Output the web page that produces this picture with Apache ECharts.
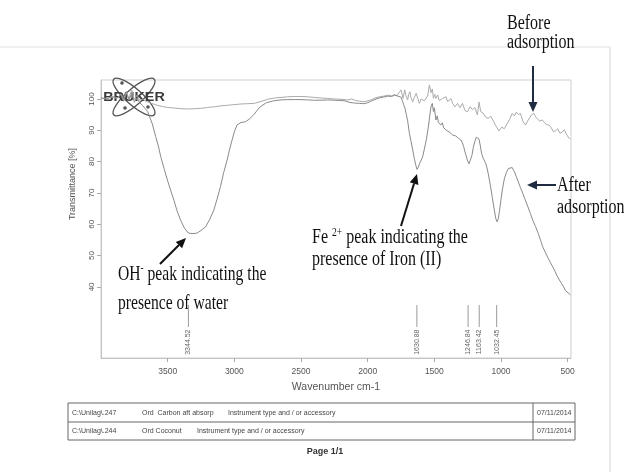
<!DOCTYPE html>
<html>
<head>
<meta charset="utf-8">
<script src="https://cdn.jsdelivr.net/npm/echarts@6/dist/echarts.min.js"></script>
<style>
  html, body { margin: 0; padding: 0; background: #ffffff; }
  #chart { width: 624px; height: 472px; }
</style>
</head>
<body>
<div id="chart"></div>
<script>
// ---------------- DATA ----------------
const xTickValues = [3500, 3000, 2500, 2000, 1500, 1000, 500];
const yTickValues = [40, 50, 60, 70, 80, 90, 100];
const peakWavenumbers = [3344.52, 1630.88, 1246.84, 1163.42, 1032.45];

// "Before adsorption" (Ord Coconut)
const beforeWn = [4000, 3960, 3920, 3880, 3850, 3830, 3810, 3790, 3770, 3750, 3730, 3710, 3690, 3660, 3620, 3580, 3540, 3500, 3450, 3400, 3350, 3300, 3250, 3200, 3150, 3100, 3050, 3000, 2950, 2900, 2850, 2800, 2750, 2700, 2650, 2600, 2550, 2500, 2450, 2400, 2350, 2300, 2250, 2200, 2150, 2120, 2090, 2060, 2030, 2000, 1970, 1940, 1910, 1880, 1850, 1820, 1800, 1780, 1765, 1750, 1735, 1722, 1712, 1700, 1692, 1683, 1675, 1662, 1649, 1636, 1624, 1612, 1599, 1587, 1575, 1562, 1550, 1537, 1525, 1515, 1507, 1497, 1488, 1475, 1463, 1450, 1438, 1425, 1413, 1400, 1388, 1375, 1363, 1345, 1326, 1308, 1289, 1270, 1251, 1232, 1214, 1196, 1177, 1165, 1152, 1134, 1115, 1097, 1078, 1060, 1040, 1015, 995, 975, 953, 935, 916, 900, 885, 870, 854, 835, 816, 800, 785, 770, 754, 740, 725, 710, 692, 675, 660, 642, 625, 608, 592, 575, 558, 542, 525, 510, 492, 480];
const beforeT = [100.3, 100.1, 100.6, 100.2, 101.6, 99.6, 102.4, 100.1, 103.0, 99.8, 101.2, 99.6, 100.0, 99.2, 98.6, 98.0, 97.6, 97.3, 97.1, 96.9, 96.8, 96.9, 97.0, 97.3, 97.5, 97.8, 98.0, 98.2, 98.4, 98.5, 98.6, 99.2, 99.9, 100.3, 100.5, 100.7, 100.8, 100.8, 100.7, 100.5, 100.3, 100.2, 100.0, 99.9, 99.7, 100.0, 99.5, 99.3, 99.1, 99.4, 99.8, 100.4, 100.7, 100.9, 101.2, 101.0, 101.4, 101.1, 101.6, 102.9, 100.2, 102.9, 101.0, 99.7, 101.5, 102.3, 100.4, 99.1, 100.6, 101.8, 100.2, 98.6, 100.0, 100.2, 99.4, 99.7, 101.0, 104.5, 102.0, 103.2, 100.2, 101.5, 100.2, 101.3, 99.5, 99.1, 100.2, 99.7, 100.7, 99.2, 98.8, 100.1, 98.6, 97.5, 98.6, 97.2, 98.6, 96.3, 95.9, 97.5, 96.6, 97.3, 94.9, 99.0, 96.0, 95.5, 94.2, 93.8, 94.5, 93.2, 91.5, 89.8, 91.0, 90.5, 92.2, 93.5, 95.4, 94.6, 95.8, 95.0, 95.4, 92.8, 91.7, 93.0, 94.0, 95.0, 95.4, 94.3, 93.8, 92.9, 93.3, 92.6, 91.8, 91.7, 91.0, 89.6, 89.8, 90.5, 89.1, 89.4, 90.2, 88.8, 87.6, 87.2];

// "After adsorption" (Ord Carbon aft absorp)
const afterWn = [4000, 3960, 3920, 3880, 3850, 3830, 3810, 3790, 3770, 3750, 3730, 3710, 3690, 3670, 3650, 3639, 3615, 3590, 3570, 3552, 3525, 3502, 3475, 3453, 3430, 3403, 3375, 3345, 3310, 3279, 3250, 3216, 3185, 3154, 3130, 3104, 3080, 3054, 3035, 3017, 3000, 2980, 2950, 2918, 2890, 2856, 2830, 2806, 2760, 2707, 2650, 2600, 2550, 2500, 2450, 2400, 2350, 2300, 2250, 2200, 2170, 2134, 2100, 2060, 2030, 2007, 1980, 1960, 1930, 1910, 1880, 1850, 1820, 1800, 1780, 1765, 1750, 1740, 1730, 1720, 1710, 1700, 1687, 1675, 1662, 1650, 1640, 1630, 1620, 1610, 1598, 1587, 1575, 1560, 1545, 1535, 1525, 1515, 1507, 1500, 1488, 1478, 1470, 1460, 1451, 1440, 1430, 1420, 1413, 1400, 1390, 1375, 1363, 1350, 1340, 1320, 1301, 1290, 1280, 1270, 1262, 1250, 1240, 1228, 1218, 1208, 1196, 1185, 1175, 1165, 1155, 1145, 1135, 1125, 1115, 1105, 1095, 1080, 1065, 1050, 1040, 1030, 1022, 1012, 1000, 990, 975, 960, 945, 930, 916, 900, 885, 870, 855, 837, 820, 800, 780, 762, 740, 720, 700, 687, 665, 650, 630, 612, 595, 580, 562, 545, 530, 517, 505, 490, 480];
const afterT = [100.3, 100.0, 100.8, 100.3, 101.4, 99.3, 102.0, 99.6, 101.8, 99.0, 100.3, 98.8, 98.0, 97.0, 96.0, 95.4, 92.0, 88.0, 85.0, 81.6, 77.5, 74.1, 70.5, 67.7, 64.3, 61.3, 58.8, 57.2, 57.0, 57.2, 58.0, 59.2, 61.5, 64.5, 68.0, 72.0, 76.5, 80.5, 84.0, 86.9, 89.5, 91.7, 92.5, 92.7, 93.5, 94.9, 96.3, 97.5, 98.8, 99.4, 99.7, 99.8, 99.8, 99.8, 99.7, 99.6, 99.6, 99.7, 99.6, 99.5, 99.4, 98.9, 98.7, 98.6, 98.5, 98.7, 99.2, 99.6, 100.1, 100.4, 100.6, 100.9, 100.8, 101.2, 101.0, 101.4, 100.6, 99.5, 98.2, 97.0, 95.0, 93.0, 89.0, 86.5, 83.7, 81.0, 79.0, 77.5, 78.2, 79.5, 80.5, 81.6, 84.0, 87.0, 91.0, 94.5, 97.5, 98.6, 96.0, 97.2, 93.3, 94.6, 92.5, 93.0, 91.7, 92.4, 90.8, 91.2, 90.1, 90.6, 89.5, 89.8, 88.5, 89.0, 88.2, 87.5, 86.9, 86.0, 84.8, 83.0, 82.0, 80.2, 79.3, 79.8, 82.0, 84.5, 86.5, 87.8, 88.2, 87.2, 85.0, 82.5, 81.2, 80.6, 79.5, 78.0, 76.0, 72.5, 68.5, 64.5, 62.0, 60.8, 61.5, 64.0, 68.0, 71.0, 74.5, 76.5, 77.8, 78.3, 78.1, 76.8, 75.2, 73.5, 71.8, 69.9, 68.0, 65.8, 63.5, 61.3, 59.2, 57.0, 54.5, 52.8, 50.8, 49.5, 47.8, 46.4, 45.0, 43.6, 42.2, 41.0, 40.0, 38.8, 38.2, 37.9, 37.5];

// ---------------- helpers ----------------
const SERIF = '"Liberation Serif", "Times New Roman", serif';
const SANS = '"Liberation Sans", Arial, sans-serif';
const mctx = document.createElement('canvas').getContext('2d');
function measure(t, font) { mctx.font = font; return mctx.measureText(t).width; }

// a line of annotation text with optional superscripts; baseline-positioned
function annLine(x, baseline, parts, size, scaleX) {
  const children = [];
  let cx = 0;
  parts.forEach(p => {
    const fs = p.sup ? Math.round(size * 0.6) : size;
    const font = fs + 'px ' + SERIF;
    const dy = p.sup ? -size * 0.42 : 0;
    children.push({
      type: 'text', x: cx, y: dy - fs * 0.34,
      style: { text: p.t, font: font, fill: '#111', align: 'left', textAlign: 'left', verticalAlign: 'middle', textVerticalAlign: 'middle' }
    });
    cx += measure(p.t, font);
  });
  return { type: 'group', x: x, y: baseline, scaleX: scaleX, children: children };
}

function arrow(x1, y1, x2, y2, color, w) {
  const ang = Math.atan2(y2 - y1, x2 - x1);
  const L = 10, H = 4.5;
  const bx = x2 - L * Math.cos(ang), by = y2 - L * Math.sin(ang);
  const px = -Math.sin(ang) * H, py = Math.cos(ang) * H;
  return {
    type: 'group', children: [
      { type: 'line', shape: { x1: x1, y1: y1, x2: bx, y2: by }, style: { stroke: color, lineWidth: w } },
      { type: 'polygon', shape: { points: [[x2, y2], [bx + px, by + py], [bx - px, by - py]] }, style: { fill: color } }
    ]
  };
}

function plain(x, y, text, font, fill, align) {
  return { type: 'text', x: x, y: y, style: { text: text, font: font, fill: fill, align: align || 'left', textAlign: align || 'left', verticalAlign: 'middle', textVerticalAlign: 'middle' } };
}

// ---------------- chart ----------------
const chart = echarts.init(document.getElementById('chart'), null, { renderer: 'canvas' });

const navy = '#1e2b40';
const graphics = [
  // faint scanned page edges
  { type: 'line', shape: { x1: 0, y1: 47, x2: 610, y2: 47 }, style: { stroke: '#e2e2e2', lineWidth: 1 } },
  { type: 'line', shape: { x1: 610, y1: 47, x2: 610, y2: 472 }, style: { stroke: '#e2e2e2', lineWidth: 1.5 } },
  // Bruker logo
  {
    type: 'group', x: 134, y: 97, children: [
      { type: 'ellipse', rotation: 0.72, shape: { cx: 0, cy: 0, rx: 27, ry: 8 }, style: { fill: 'none', stroke: '#555', lineWidth: 1.3 } },
      { type: 'ellipse', rotation: -0.72, shape: { cx: 0, cy: 0, rx: 27, ry: 8 }, style: { fill: 'none', stroke: '#555', lineWidth: 1.3 } },
      { type: 'circle', shape: { cx: -12, cy: -14, r: 1.8 }, style: { fill: '#555' } },
      { type: 'circle', shape: { cx: -9, cy: 11, r: 1.8 }, style: { fill: '#555' } },
      { type: 'circle', shape: { cx: 14, cy: 10, r: 1.8 }, style: { fill: '#555' } },
      { type: 'text', x: 0, y: 1, scaleX: 1.2, style: { text: 'BRUKER', font: 'bold 12px ' + SANS, fill: '#3a3a3a', align: 'center', textAlign: 'center', verticalAlign: 'middle', textVerticalAlign: 'middle' } }
    ]
  },
  // y axis name
  { type: 'text', x: 73, y: 184, rotation: Math.PI / 2, style: { text: 'Transmittance [%]', font: '9px ' + SANS, fill: '#555', align: 'center', textAlign: 'center', verticalAlign: 'middle', textVerticalAlign: 'middle' } },
  // annotations
  annLine(507, 31, [{ t: 'Before' }], 20, 0.8),
  annLine(507, 50, [{ t: 'adsorption' }], 20, 0.8),
  arrow(533, 66, 533, 112, navy, 2),
  annLine(557, 193, [{ t: 'After' }], 20, 0.8),
  annLine(557, 215, [{ t: 'adsorption' }], 20, 0.8),
  arrow(556, 185, 527, 185, navy, 2),
  annLine(312, 245, [{ t: 'Fe ' }, { t: '2+', sup: true }, { t: ' peak indicating the' }], 20, 0.8),
  annLine(312, 267, [{ t: 'presence of Iron (II)' }], 20, 0.8),
  arrow(401, 226, 417, 174, '#111', 2),
  annLine(118, 282, [{ t: 'OH' }, { t: '-', sup: true }, { t: ' peak indicating the' }], 22, 0.71),
  annLine(118, 311, [{ t: 'presence of water' }], 22, 0.71),
  arrow(160, 264, 186, 238, '#111', 2),
  // info table
  { type: 'rect', shape: { x: 68, y: 403, width: 507, height: 37 }, style: { fill: 'none', stroke: '#666', lineWidth: 1 } },
  { type: 'line', shape: { x1: 68, y1: 422, x2: 575, y2: 422 }, style: { stroke: '#666', lineWidth: 1 } },
  { type: 'line', shape: { x1: 533, y1: 403, x2: 533, y2: 440 }, style: { stroke: '#666', lineWidth: 1 } },
  plain(72, 413, 'C:\\Unilag\\.247', '7px ' + SANS, '#444'),
  plain(142, 413, 'Ord  Carbon aft absorp', '7px ' + SANS, '#444'),
  plain(228, 413, 'Instrument type and / or accessory', '7px ' + SANS, '#444'),
  plain(537, 413, '07/11/2014', '7px ' + SANS, '#444'),
  plain(72, 431, 'C:\\Unilag\\.244', '7px ' + SANS, '#444'),
  plain(142, 431, 'Ord Coconut', '7px ' + SANS, '#444'),
  plain(197, 431, 'Instrument type and / or accessory', '7px ' + SANS, '#444'),
  plain(537, 431, '07/11/2014', '7px ' + SANS, '#444'),
  plain(325, 452, 'Page 1/1', 'bold 9px ' + SANS, '#333', 'center')
];

const zip = (a, b) => a.map((v, i) => [v, b[i]]);

chart.setOption({
  animation: false,
  backgroundColor: '#ffffff',
  grid: { left: 101, right: 53, top: 80, bottom: 114, show: true, borderColor: '#cfcfcf', borderWidth: 1 },
  xAxis: {
    type: 'value', min: 475, max: 4000, inverse: true,
    name: 'Wavenumber cm-1', nameLocation: 'middle', nameGap: 24,
    nameTextStyle: { fontFamily: SANS, fontSize: 10.5, color: '#555' },
    axisLine: { show: true, lineStyle: { color: '#c4c4c4' } },
    axisTick: { show: true, customValues: xTickValues, length: 4, lineStyle: { color: '#aaa' } },
    axisLabel: { customValues: xTickValues, formatter: v => String(v), fontFamily: SANS, fontSize: 8.5, color: '#555', margin: 9 },
    splitLine: { show: false }
  },
  yAxis: {
    type: 'value', min: 17.3, max: 106.06,
    axisLine: { show: true, lineStyle: { color: '#c4c4c4' } },
    axisTick: { show: true, customValues: yTickValues, length: 4, lineStyle: { color: '#aaa' } },
    axisLabel: { customValues: yTickValues, formatter: v => String(v), rotate: 90, fontFamily: SANS, fontSize: 8, color: '#555', margin: 5 },
    splitLine: { show: false }
  },
  series: [
    {
      name: 'Before adsorption', type: 'line', data: zip(beforeWn, beforeT),
      showSymbol: false, symbol: 'none', lineStyle: { color: '#ababab', width: 1 }, z: 2
    },
    {
      name: 'After adsorption', type: 'line', data: zip(afterWn, afterT),
      showSymbol: false, symbol: 'none', lineStyle: { color: '#8a8a8a', width: 1 }, z: 3
    },
    {
      name: 'Peaks', type: 'custom', data: peakWavenumbers.map(w => [w]),
      encode: { x: 0 }, z: 4, silent: true,
      renderItem: function (params, api) {
        const w = api.value(0);
        const a = api.coord([w, 34.2]);
        const b = api.coord([w, 27.2]);
        const c = api.coord([w, 26.4]);
        return {
          type: 'group', children: [
            { type: 'line', shape: { x1: a[0], y1: a[1], x2: b[0], y2: b[1] }, style: { stroke: '#9a9a9a', lineWidth: 1 } },
            { type: 'text', x: c[0], y: c[1], rotation: Math.PI / 2,
              style: { text: w.toFixed(2), font: '7px ' + SANS, fill: '#666', align: 'right', textAlign: 'right', verticalAlign: 'middle', textVerticalAlign: 'middle' } }
          ]
        };
      }
    }
  ],
  graphic: graphics
});
</script>
</body>
</html>
